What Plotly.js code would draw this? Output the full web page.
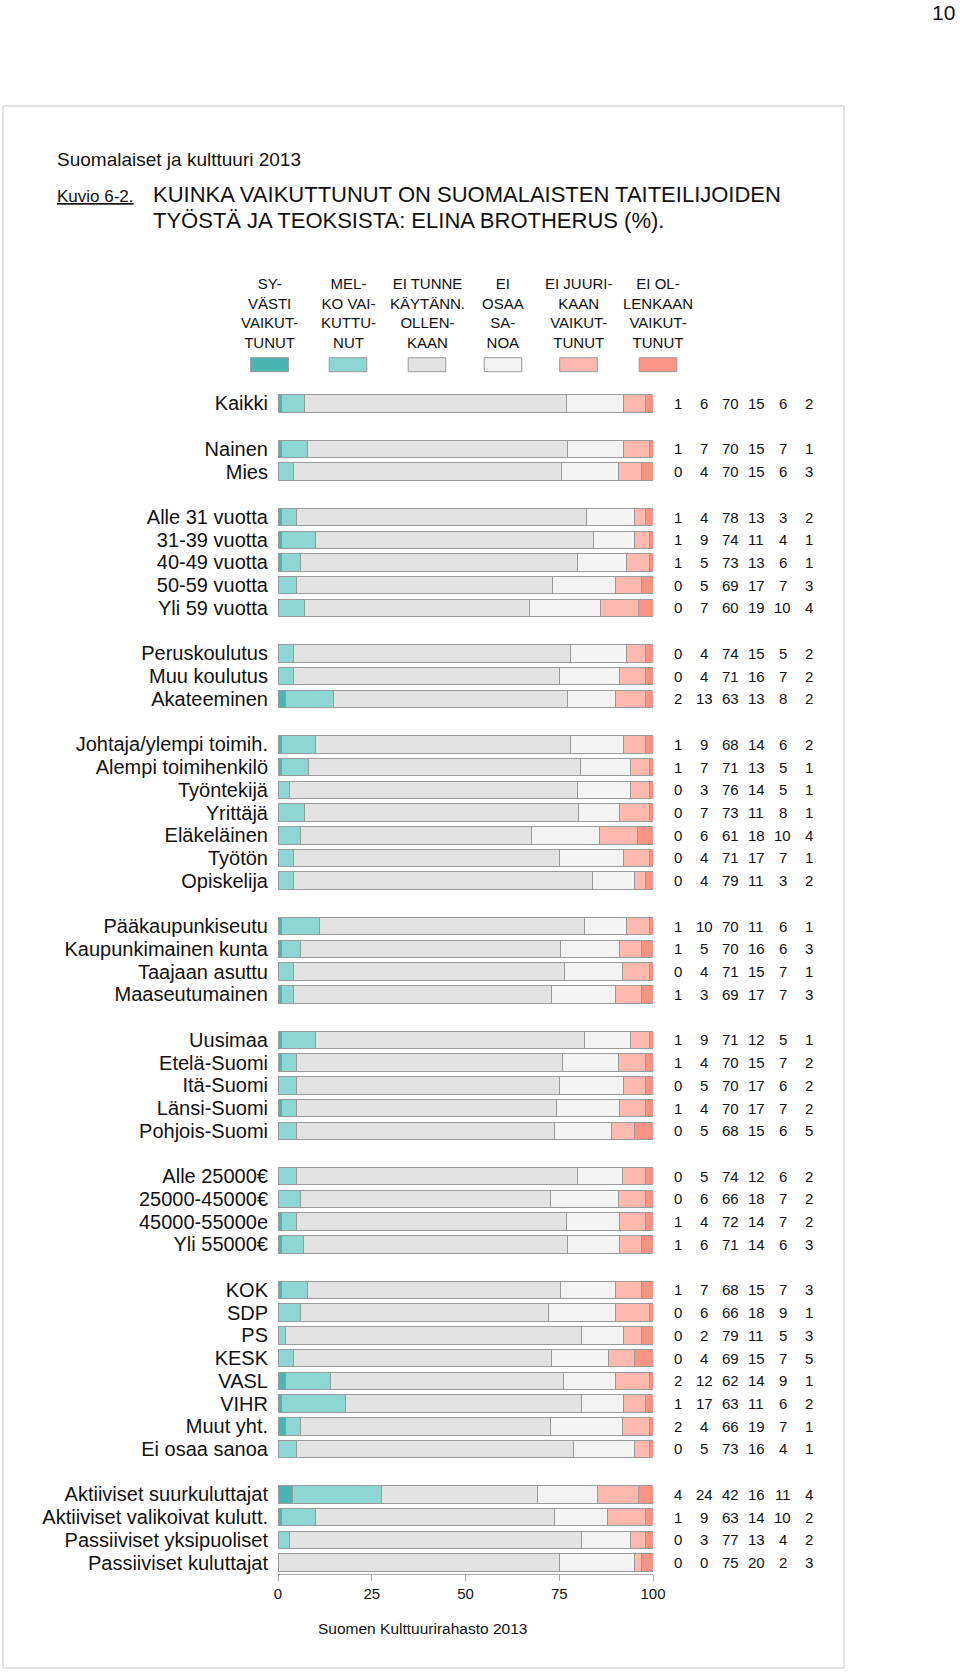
<!DOCTYPE html>
<html>
<head>
<meta charset="utf-8">
<script src="https://cdn.plot.ly/plotly-3.0.1.min.js"></script>
<style>
html,body{margin:0;padding:0;background:#fff;}
#chart{width:960px;height:1673px;}
</style>
</head>
<body>
<div id="chart"></div>
<script>
// ---- Data ----
const categoryGroups = [
  ["Kaikki"],
  ["Nainen", "Mies"],
  ["Alle 31 vuotta", "31-39 vuotta", "40-49 vuotta", "50-59 vuotta", "Yli 59 vuotta"],
  ["Peruskoulutus", "Muu koulutus", "Akateeminen"],
  ["Johtaja/ylempi toimih.", "Alempi toimihenkilö", "Työntekijä", "Yrittäjä", "Eläkeläinen", "Työtön", "Opiskelija"],
  ["Pääkaupunkiseutu", "Kaupunkimainen kunta", "Taajaan asuttu", "Maaseutumainen"],
  ["Uusimaa", "Etelä-Suomi", "Itä-Suomi", "Länsi-Suomi", "Pohjois-Suomi"],
  ["Alle 25000€", "25000-45000€", "45000-55000e", "Yli 55000€"],
  ["KOK", "SDP", "PS", "KESK", "VASL", "VIHR", "Muut yht.", "Ei osaa sanoa"],
  ["Aktiiviset suurkuluttajat", "Aktiiviset valikoivat kulutt.", "Passiiviset yksipuoliset", "Passiiviset kuluttajat"]
];

const seriesNames = [
  "SY-<br>VÄSTI<br>VAIKUT-<br>TUNUT",
  "MEL-<br>KO VAI-<br>KUTTU-<br>NUT",
  "EI TUNNE<br>KÄYTÄNN.<br>OLLEN-<br>KAAN",
  "EI<br>OSAA<br>SA-<br>NOA",
  "EI JUURI-<br>KAAN<br>VAIKUT-<br>TUNUT",
  "EI OL-<br>LENKAAN<br>VAIKUT-<br>TUNUT"
];

const syvasti     = [1, 1,0, 1,1,1,0,0, 0,0,2, 1,1,0,0,0,0,0, 1,1,0,1, 1,1,0,1,0, 0,0,1,1, 1,0,0,0,2,1,2,0, 4,1,0,0];
const melko       = [6, 7,4, 4,9,5,5,7, 4,4,13, 9,7,3,7,6,4,4, 10,5,4,3, 9,4,5,4,5, 5,6,4,6, 7,6,2,4,12,17,4,5, 24,9,3,0];
const eiTunne     = [70, 70,70, 78,74,73,69,60, 74,71,63, 68,71,76,73,61,71,79, 70,70,71,69, 71,70,70,70,68, 74,66,72,71, 68,66,79,69,62,63,66,73, 42,63,77,75];
const eiOsaa      = [15, 15,15, 13,11,13,17,19, 15,16,13, 14,13,14,11,18,17,11, 11,16,15,17, 12,15,17,17,15, 12,18,14,14, 15,18,11,15,14,11,19,16, 16,14,13,20];
const eiJuuri     = [6, 7,6, 3,4,6,7,10, 5,7,8, 6,5,5,8,10,7,3, 6,6,7,7, 5,7,6,7,6, 6,7,7,6, 7,9,5,7,9,6,7,4, 11,10,4,2];
const eiOllenkaan = [2, 1,3, 2,1,1,3,4, 2,2,2, 2,1,1,1,4,1,2, 1,3,1,3, 1,2,2,2,5, 2,2,2,3, 3,1,3,5,1,2,1,1, 4,2,2,3];

const xTicks = [0, 25, 50, 75, 100];

// ---- Styling ----
const colors = ["#48b5b0", "#8dd6d2", "#e3e3e3", "#f3f3f3", "#fdb9ad", "#fc9486"];
const FONT = "'Liberation Sans', Arial, Helvetica, sans-serif";

// ---- Build row positions (one blank slot between groups) ----
const labels = [];
const slots = [];
let s = 0;
categoryGroups.forEach((g, gi) => {
  if (gi > 0) s += 1;
  g.forEach(lbl => { labels.push(lbl); slots.push(s); s += 1; });
});
const nSlots = s;

const W = 960, H = 1673;
const L = 278, R = 653, T = 392, B = 1574;
const px = x => (x - L) / (R - L);
const py = y => (B - y) / (B - T);

const allSeries = [syvasti, melko, eiTunne, eiOsaa, eiJuuri, eiOllenkaan];

const traces = allSeries.map((vals, i) => ({
  type: "bar",
  orientation: "h",
  x: vals,
  y: slots,
  width: 0.77,
  marker: { color: colors[i], line: { color: "#9a9a9a", width: 1 } },
  hoverinfo: "skip",
  showlegend: false
}));

const annotations = [];
const shapes = [];

// Right-side value columns
const colX = [678, 704, 730, 756, 782.5, 808.7];
allSeries.forEach((vals, i) => {
  vals.forEach((v, r) => {
    annotations.push({
      xref: "paper", yref: "y", x: px(colX[i]), y: slots[r],
      text: String(v), showarrow: false, xanchor: "center", yanchor: "middle",
      font: { family: FONT, size: 15, color: "#111" }
    });
  });
});

// Legend headers and swatches
const legX = [269.5, 348, 427, 503, 578.5, 658];
seriesNames.forEach((nm, i) => {
  annotations.push({
    xref: "paper", yref: "paper", x: px(legX[i]), y: py(313),
    text: nm, showarrow: false, xanchor: "center", yanchor: "middle", align: "center",
    font: { family: FONT, size: 15, color: "#111" }
  });
  shapes.push({
    type: "rect", xref: "paper", yref: "paper",
    x0: px(legX[i] - 18.8), x1: px(legX[i] + 18.8), y0: py(371.7), y1: py(357.7),
    fillcolor: colors[i], line: { color: "#9a9a9a", width: 1 }
  });
});

// Titles
annotations.push({
  xref: "paper", yref: "paper", x: px(55), y: py(160), xanchor: "left", yanchor: "middle",
  text: "Suomalaiset ja kulttuuri 2013", showarrow: false,
  font: { family: FONT, size: 19, color: "#111" }
});
annotations.push({
  xref: "paper", yref: "paper", x: px(55), y: py(196), xanchor: "left", yanchor: "middle",
  text: "<u>Kuvio 6-2.</u>", showarrow: false,
  font: { family: FONT, size: 17, color: "#111" }
});
annotations.push({
  xref: "paper", yref: "paper", x: px(151), y: py(194), xanchor: "left", yanchor: "middle",
  text: "KUINKA VAIKUTTUNUT ON SUOMALAISTEN TAITEILIJOIDEN", showarrow: false,
  font: { family: FONT, size: 22, color: "#111" }
});
annotations.push({
  xref: "paper", yref: "paper", x: px(151), y: py(221), xanchor: "left", yanchor: "middle",
  text: "TYÖSTÄ JA TEOKSISTA: ELINA BROTHERUS (%).", showarrow: false,
  font: { family: FONT, size: 22, color: "#111" }
});
// Source
annotations.push({
  xref: "paper", yref: "paper", x: px(422), y: py(1629), xanchor: "center", yanchor: "middle",
  text: "Suomen Kulttuurirahasto 2013", showarrow: false,
  font: { family: FONT, size: 15.5, color: "#111" }
});
// Page number
annotations.push({
  xref: "paper", yref: "paper", x: px(957), y: py(12), xanchor: "right", yanchor: "middle",
  text: "10", showarrow: false,
  font: { family: FONT, size: 21, color: "#111" }
});

// Frame
shapes.push({
  type: "rect", xref: "paper", yref: "paper", layer: "below",
  x0: px(3), x1: px(844), y0: py(1668), y1: py(106),
  line: { color: "#c8c8c8", width: 1 }, fillcolor: "rgba(0,0,0,0)"
});

const layout = {
  width: W, height: H,
  margin: { l: L, r: W - R, t: T, b: H - B, pad: 0 },
  paper_bgcolor: "#fff", plot_bgcolor: "rgba(0,0,0,0)",
  barmode: "stack",
  barnorm: "percent",
  font: { family: FONT, color: "#111" },
  xaxis: {
    range: [0, 100], tickvals: xTicks, ticktext: xTicks.map(String),
    showgrid: false, zeroline: false, showline: true, linecolor: "#aaa", linewidth: 1,
    ticks: "outside", ticklen: 6, tickcolor: "#aaa",
    tickfont: { family: FONT, size: 15, color: "#111" }, fixedrange: true
  },
  yaxis: {
    range: [nSlots - 0.5, -0.5], tickvals: slots, ticktext: labels,
    showgrid: false, zeroline: false, showline: false,
    ticks: "outside", ticklen: 5, tickcolor: "rgba(0,0,0,0)",
    tickfont: { family: FONT, size: 20, color: "#111" }, fixedrange: true
  },
  annotations: annotations,
  shapes: shapes
};

Plotly.newPlot("chart", traces, layout, { displayModeBar: false, staticPlot: true });
</script>
</body>
</html>
